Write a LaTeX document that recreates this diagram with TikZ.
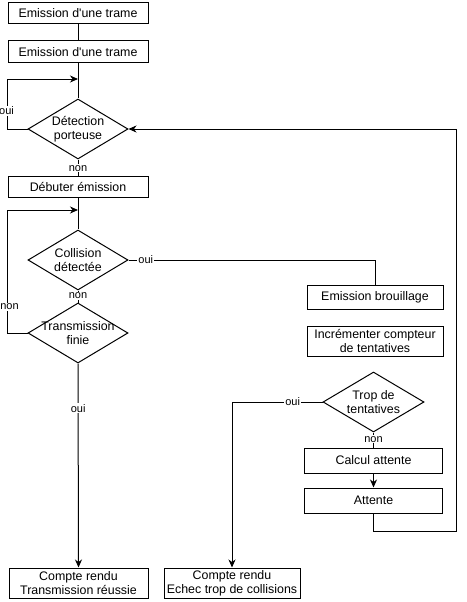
\documentclass[tikz,border=0pt]{standalone}
\usepackage{fontspec}
\setmainfont{Liberation Sans}
\usetikzlibrary{shapes.geometric,arrows.meta}

\begin{document}
\begin{tikzpicture}[x=1pt, y=-1pt, line width=1pt, line join=miter,
  boite/.style={draw, rectangle, inner sep=0pt, align=center,
    font=\fontsize{12.4}{14}\selectfont},
  test/.style={draw, diamond, inner sep=0pt, minimum width=100pt, minimum height=60pt},
  texte/.style={align=center, inner sep=0pt, font=\fontsize{12.4}{14}\selectfont},
  etiq/.style={fill=white, inner sep=1pt, font=\fontsize{11}{13}\selectfont},
  fleche/.style={-{Stealth[length=8pt,width=7pt,inset=2.5pt]}}]
  \useasboundingbox (0,0) rectangle (466,602);

  % Colonne de gauche
  \node[boite, minimum width=140pt, minimum height=21pt] (emis1) at (78,13.5) {Emission d\textquotesingle une trame};
  \node[boite, minimum width=140pt, minimum height=22pt] (emis2) at (78,52) {Emission d\textquotesingle une trame};
  \node[test, label={[texte]center:Détection\\porteuse}] (detect) at (78,129) {};
  \node[boite, minimum width=140pt, minimum height=21pt] (debut) at (78,186.5) {Débuter émission};
  \node[test, label={[texte]center:Collision\\détectée}] (collision) at (78,260) {};
  \node[test, label={[texte]center:Transmission\\finie}] (transfin) at (78,333) {};
  \node[boite, minimum width=139pt, minimum height=30pt] (crok) at (78.5,583) {Compte rendu\\Transmission réussie};
  \node[boite, minimum width=136pt, minimum height=30pt] (crechec) at (232,583) {Compte rendu\\Echec trop de collisions};

  % Colonne de droite
  \node[boite, minimum width=136pt, minimum height=24pt] (brouill) at (375,297) {Emission brouillage};
  \node[boite, minimum width=136pt, minimum height=30pt] (incr) at (375,341) {Incrémenter compteur\\de tentatives};
  \node[test, minimum width=101pt, label={[texte]center:Trop de\\tentatives}] (trop) at (373.5,402) {};
  \node[boite, minimum width=138pt, minimum height=25pt] (calcul) at (373.5,460.5) {Calcul attente};
  \node[boite, minimum width=138pt, minimum height=25pt] (attente) at (373.5,500.5) {Attente};

  % Points de jonction
  \coordinate (jD) at (78,79);
  \coordinate (jC) at (78,210);
  \coordinate (coinB) at (456,531);

  % Liaisons
  \draw (emis1) -- (emis2);
  \draw (emis2) -- (detect);
  \draw[fleche] (detect.west) -- ++(-20,0) |- (jD) node[etiq, pos=0.18, xshift=-1pt] (oui1) {oui};
  \draw (detect.south) -- (debut.north) node[etiq, pos=0.55] (non1) {non};
  \draw (debut) -- (collision);
  \draw (collision.south) -- (transfin.north) node[etiq, pos=0.45] (non2) {non};
  \draw[fleche] (transfin.west) -- ++(-20,0) |- (jC) node[etiq, pos=0.106, xshift=2pt] (non3) {non};
  \draw[fleche] (transfin.south) -- (crok.north) node[etiq, pos=0.22] (oui2) {oui};
  \draw (collision.east) -| (brouill.north) node[etiq, pos=0.035] (oui3) {oui};
  \draw[fleche] (trop.west) -| (crechec.north) node[etiq, pos=0.165] (oui4) {oui};
  \draw (trop.south) -- (calcul.north) node[etiq, pos=0.45] (non4) {non};
  \draw[fleche] (calcul) -- (attente);
  \draw[fleche] (attente.south) |- (coinB) |- (detect.east);
\end{tikzpicture}
\end{document}
